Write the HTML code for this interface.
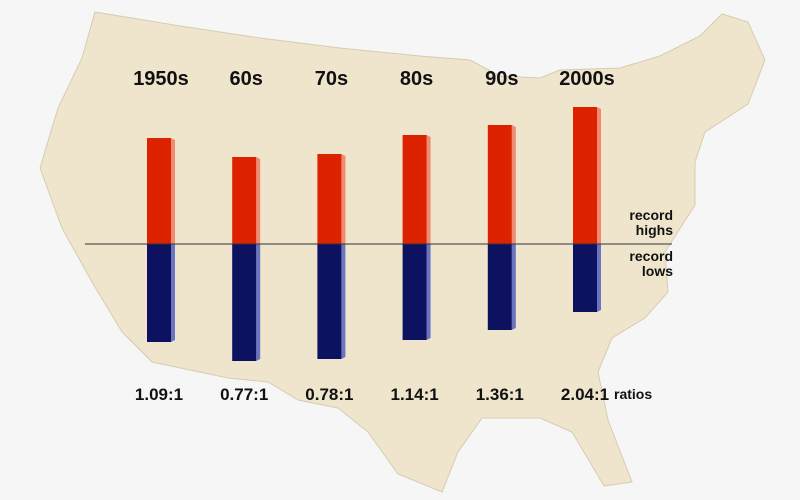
<!DOCTYPE html>
<html><head><meta charset="utf-8"><style>
body{margin:0;background:#f6f6f6;}
svg{display:block;font-family:"Liberation Sans",sans-serif;font-weight:bold;}
</style></head><body>
<svg id="chart" width="800" height="500" viewBox="0 0 800 500">
<rect width="800" height="500" fill="#f6f6f6"/>
<polygon fill="#eee5cc" stroke="#d6ccb0" stroke-width="1"
 points="95,12 180,26 260,38 340,48 420,56 470,60 500,76 540,78 560,70 620,68 660,56 700,36 722,14 748,22 765,60 748,104 705,132 695,162 695,205 665,252 668,292 645,318 612,338 598,372 608,420 632,482 604,486 572,432 540,418 482,418 458,452 442,492 398,474 368,432 338,408 298,400 268,382 228,378 152,362 122,332 92,282 62,228 40,168 58,108 82,58"/>
<g id="bars"></g>
<line x1="85" y1="244" x2="672" y2="244" stroke="#333" stroke-width="1"/>
<text x="673" y="220" text-anchor="end" font-size="14" fill="#111">record</text>
<text x="673" y="235" text-anchor="end" font-size="14" fill="#111">highs</text>
<text x="673" y="261" text-anchor="end" font-size="14" fill="#111">record</text>
<text x="673" y="276" text-anchor="end" font-size="14" fill="#111">lows</text>
<text x="614" y="399" font-size="14" fill="#111">ratios</text>
</svg>
<script>
const decades = ["1950s","60s","70s","80s","90s","2000s"];
const highs = [106, 87, 90, 109, 119, 137];
const lows = [98, 117, 115, 96, 86, 68];
const ratios = ["1.09:1","0.77:1","0.78:1","1.14:1","1.36:1","2.04:1"];
const NS="http://www.w3.org/2000/svg";
const g=document.getElementById('bars');
const base=244, scale=1;
function xPos(i){return 147+i*85.2;}
function yv(v){return v*scale;}
const barW=24;
function mk(tag,attrs){const e=document.createElementNS(NS,tag);for(const k in attrs)e.setAttribute(k,attrs[k]);g.appendChild(e);return e;}
decades.forEach((d,i)=>{
  const x=xPos(i), h=yv(highs[i]), l=yv(lows[i]);
  let s=mk('polygon',{points:`${x+barW},${base-h} ${x+barW+4},${base-h+2} ${x+barW+4},${base} ${x+barW},${base}`,fill:'#f08a70'});
  
  
  let r=mk('rect',{x:x,y:base-h,width:barW,height:h,fill:'#dd2200'});
  
  
  let s2=mk('polygon',{points:`${x+barW},${base} ${x+barW+4},${base} ${x+barW+4},${base+l-2} ${x+barW},${base+l}`,fill:'#6a74c0'});
  
  
  let b=mk('rect',{x:x,y:base,width:barW,height:l,fill:'#0c1160'});
  
  
  let t=mk('text',{x:x+barW/2+2,y:85,'text-anchor':'middle','font-size':'20',fill:'#111'});
  t.textContent=d;
  
  
  let rt=mk('text',{x:x+barW/2,y:400,'text-anchor':'middle','font-size':'17',fill:'#111'});
  rt.textContent=ratios[i];
  
  
});
</script>
</body></html>
